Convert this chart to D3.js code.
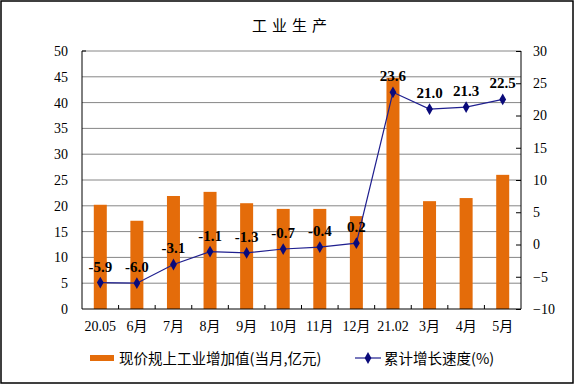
<!DOCTYPE html>
<html><head><meta charset="utf-8">
<script src="https://cdn.jsdelivr.net/npm/d3@7"></script>
<style>body{margin:0;background:#fff}svg{display:block}</style>
</head><body>
<svg id="c" width="575" height="385"></svg>
<script>
const categories = ["20.05","6月","7月","8月","9月","10月","11月","12月","21.02","3月","4月","5月"];
const valueAdded = [20.2,17.1,21.9,22.7,20.5,19.4,19.4,18.0,44.8,20.9,21.5,26.0];
const growth = [-5.9,-6.0,-3.1,-1.1,-1.3,-0.7,-0.4,0.2,23.6,21.0,21.3,22.5];
const leftTicks = [0,5,10,15,20,25,30,35,40,45,50];
const rightTicks = [-10,-5,0,5,10,15,20,25,30];
const title = "工业生产";
const barName = "现价规上工业增加值(当月,亿元)";
const lineName = "累计增长速度(%)";

const svg = d3.select("#c");
const m = {l:82, r:521, t:51, b:309};
const serif = "'Liberation Serif','Times New Roman',serif";
const cjk = "'Liberation Serif','Noto Sans CJK SC',sans-serif";

svg.append("rect").attr("x",1).attr("y",1).attr("width",572).attr("height",382)
  .attr("fill","#fff").attr("stroke","#000").attr("stroke-width",1.5);

svg.append("text").attr("x",292).attr("y",31).attr("text-anchor","middle")
  .attr("font-family","'Noto Sans CJK SC',sans-serif").attr("font-size",15)
  .attr("letter-spacing",5).attr("fill","#000").text(title);

const x = d3.scaleBand().domain(categories).range([m.l,m.r]).padding(0);
const yL = d3.scaleLinear().domain([0,50]).range([m.b,m.t]);
const yR = d3.scaleLinear().domain([-10,30]).range([m.b,m.t]);

// gridlines
svg.append("g").selectAll("line").data(leftTicks.filter(d=>d>0)).join("line")
  .attr("x1",m.l).attr("x2",m.r).attr("y1",d=>yL(d)).attr("y2",d=>yL(d))
  .attr("stroke","#868686").attr("stroke-width",1);

// bars
const bw = 13;
svg.append("g").selectAll("rect").data(valueAdded).join("rect")
  .attr("x",(d,i)=>x(categories[i])+x.bandwidth()/2-bw/2)
  .attr("width",bw)
  .attr("y",d=>yL(d)).attr("height",d=>m.b-yL(d))
  .attr("fill","#E46C0A");

// axes
const axL = svg.append("g").attr("transform",`translate(${m.l},0)`)
  .call(d3.axisLeft(yL).tickValues(leftTicks).tickSize(0).tickPadding(14));
axL.select(".domain").remove();
axL.selectAll("text").attr("font-family",serif).attr("font-size",14).attr("fill","#000");

const axR = svg.append("g").attr("transform",`translate(${m.r},0)`)
  .call(d3.axisRight(yR).tickValues(rightTicks).tickSizeInner(-5).tickSizeOuter(0).tickPadding(12));
axR.select(".domain").remove();
axR.selectAll("line").attr("stroke","#000");
axR.selectAll("text").attr("font-family",serif).attr("font-size",14).attr("fill","#000");

const axB = svg.append("g").attr("transform",`translate(0,${m.b})`)
  .call(d3.axisBottom(x).tickSize(0).tickPadding(12));
axB.select(".domain").remove();
axB.selectAll("text").attr("font-family",cjk).attr("font-size",14).attr("fill","#000");
// category boundary ticks
svg.append("g").selectAll("line").data(categories.slice(1)).join("line")
  .attr("x1",d=>x(d)).attr("x2",d=>x(d)).attr("y1",m.b).attr("y2",m.b-4)
  .attr("stroke","#000");

// axis lines
svg.append("line").attr("x1",m.l).attr("x2",m.l).attr("y1",m.t).attr("y2",m.b).attr("stroke","#000");
svg.append("line").attr("x1",m.r).attr("x2",m.r).attr("y1",m.t).attr("y2",m.b).attr("stroke","#000");
svg.append("line").attr("x1",m.l).attr("x2",m.r).attr("y1",m.b).attr("y2",m.b).attr("stroke","#000");
svg.append("line").attr("x1",m.l).attr("x2",m.l+4).attr("y1",m.t).attr("y2",m.t).attr("stroke","#000");

// line
const cx = (d,i)=>x(categories[i])+x.bandwidth()/2;
svg.append("path").datum(growth)
  .attr("d",d3.line().x(cx).y(d=>yR(d)))
  .attr("fill","none").attr("stroke","#1F1F8F").attr("stroke-width",1.2);
const diamond = d3.symbol().type(d3.symbolDiamond).size(40);
svg.append("g").selectAll("path").data(growth).join("path")
  .attr("d",diamond).attr("transform",(d,i)=>`translate(${cx(d,i)},${yR(d)})`)
  .attr("fill","#0A0A7A");
svg.append("g").selectAll("text").data(growth).join("text")
  .attr("x",cx).attr("y",d=>yR(d)-11).attr("text-anchor","middle")
  .attr("font-family",serif).attr("font-size",15).attr("font-weight","bold")
  .attr("fill","#000").text(d=>d.toFixed(1));

// legend
const lg = svg.append("g");
lg.append("rect").attr("x",90).attr("y",355).attr("width",24).attr("height",6).attr("fill","#E46C0A");
lg.append("text").attr("x",119).attr("y",363.5).attr("font-family","'Noto Sans CJK SC',sans-serif")
  .attr("font-size",14.5).attr("fill","#000").text(barName);
lg.append("line").attr("x1",355).attr("x2",381).attr("y1",358).attr("y2",358).attr("stroke","#1F1F8F").attr("stroke-width",1.2);
lg.append("path").attr("d",diamond).attr("transform","translate(368,358)").attr("fill","#0A0A7A");
lg.append("text").attr("x",384).attr("y",363.5).attr("font-family","'Noto Sans CJK SC',sans-serif")
  .attr("font-size",14.5).attr("fill","#000").text(lineName);
</script>
</body></html>
